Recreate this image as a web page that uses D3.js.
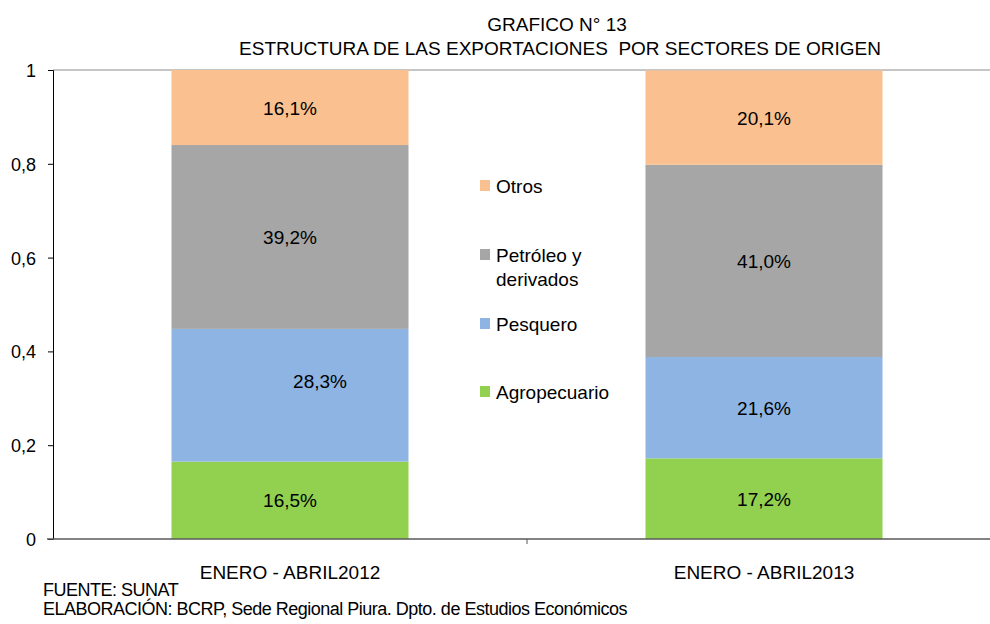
<!DOCTYPE html>
<html>
<head>
<meta charset="utf-8">
<script src="https://cdn.jsdelivr.net/npm/d3@7"></script>
<style>
  body { margin: 0; background: #fff; }
  text { font-family: "Liberation Sans", Arial, sans-serif; fill: #000; }
</style>
</head>
<body>
<script>
const periods = ["ENERO - ABRIL2012", "ENERO - ABRIL2013"];
const sectors = ["Agropecuario", "Pesquero", "Petróleo y derivados", "Otros"];
const agropecuario = [0.165, 0.172];
const pesquero = [0.283, 0.216];
const petroleo = [0.392, 0.41];
const otros = [0.161, 0.201];
const yTicks = [0, 0.2, 0.4, 0.6, 0.8, 1];
const colors = ["#92D050", "#8EB4E3", "#A6A6A6", "#FAC090"];

const width = 990;
const height = 624;
const margin = { left: 53, top: 70, right: -11, bottom: 85 };

const svg = d3
  .select("body")
  .append("svg")
  .attr("width", width)
  .attr("height", height);

const rows = periods.map((p, i) => ({
  period: p,
  "Agropecuario": agropecuario[i],
  "Pesquero": pesquero[i],
  "Petróleo y derivados": petroleo[i],
  "Otros": otros[i],
}));
const series = d3.stack().keys(sectors)(rows);

const x = d3
  .scaleBand()
  .domain(periods)
  .range([margin.left, width - margin.right])
  .paddingInner(0.5)
  .paddingOuter(0.25);
const y = d3
  .scaleLinear()
  .domain([0, 1])
  .range([height - margin.bottom, margin.top]);

// top gridline
svg
  .append("line")
  .attr("x1", margin.left)
  .attr("x2", width)
  .attr("y1", y(1))
  .attr("y2", y(1))
  .attr("stroke", "#8c8c8c")
  .attr("stroke-width", 1);

// bars
const layers = svg
  .selectAll("g.layer")
  .data(series)
  .enter()
  .append("g")
  .attr("class", "layer")
  .attr("fill", (_, i) => colors[i]);

layers
  .selectAll("rect")
  .data((d) => d)
  .enter()
  .append("rect")
  .attr("x", (d) => x(d.data.period))
  .attr("width", x.bandwidth())
  .attr("y", (d) => y(Math.min(d[1], 1)))
  .attr("height", (d) => y(d[0]) - y(Math.min(d[1], 1)));

// value labels (one label was moved by hand in the original)
const nudge = { "Pesquero|0": [30, -14] };
layers.each(function (s) {
  d3.select(this)
    .selectAll("text")
    .data(s)
    .enter()
    .append("text")
    .attr("text-anchor", "middle")
    .attr("font-size", 19)
    .attr("x", (d, i) => x(d.data.period) + x.bandwidth() / 2 + ((nudge[s.key + "|" + i] || [0, 0])[0]))
    .attr("y", (d, i) => (y(d[0]) + y(Math.min(d[1], 1))) / 2 + 7 + ((nudge[s.key + "|" + i] || [0, 0])[1]))
    .text((d) => (d.data[s.key] * 100).toFixed(1).replace(".", ",") + "%");
});

// y axis
const yAxis = svg
  .append("g")
  .attr("transform", `translate(${margin.left},0)`)
  .call(
    d3
      .axisLeft(y)
      .tickValues(yTicks)
      .tickSize(5)
      .tickFormat((d) => String(d).replace(".", ","))
  );
yAxis.select(".domain").attr("stroke", "#000");
yAxis.selectAll(".tick line").attr("stroke", "#000");
yAxis
  .selectAll(".tick text")
  .attr("x", -17)
  .attr("dy", "0.36em")
  .attr("font-size", 18)
  .attr("font-family", "Liberation Sans, Arial, sans-serif")
  .attr("fill", "#000");

// x axis
const xAxis = svg
  .append("g")
  .attr("transform", `translate(0,${y(0)})`)
  .call(d3.axisBottom(x).tickSize(0).tickPadding(27));
xAxis.select(".domain").remove();
xAxis
  .append("line")
  .attr("x1", margin.left - 6)
  .attr("x2", width)
  .attr("stroke", "#595959")
  .attr("stroke-width", 1.5);
xAxis
  .append("line")
  .attr("x1", (x(periods[0]) + x.bandwidth() + x(periods[1])) / 2)
  .attr("x2", (x(periods[0]) + x.bandwidth() + x(periods[1])) / 2)
  .attr("y1", 0)
  .attr("y2", 5)
  .attr("stroke", "#595959");
xAxis
  .selectAll(".tick text")
  .attr("font-size", 19)
  .attr("font-family", "Liberation Sans, Arial, sans-serif")
  .attr("fill", "#000");

// legend
const legendY = { "Otros": 180, "Petróleo y derivados": 249, "Pesquero": 318, "Agropecuario": 386 };
const legend = svg
  .selectAll("g.legend")
  .data(sectors)
  .enter()
  .append("g")
  .attr("class", "legend")
  .attr("transform", (d) => `translate(480,${legendY[d]})`);
legend
  .append("rect")
  .attr("width", 10)
  .attr("height", 11)
  .attr("fill", (_, i) => colors[i]);
legend
  .append("text")
  .attr("x", 16)
  .attr("y", 13)
  .attr("font-size", 19)
  .each(function (d) {
    const parts = d === "Petróleo y derivados" ? ["Petróleo y", "derivados"] : [d];
    d3.select(this)
      .selectAll("tspan")
      .data(parts)
      .enter()
      .append("tspan")
      .attr("x", 16)
      .attr("dy", (_, i) => (i === 0 ? 0 : 24))
      .text((t) => t);
  });

// title
svg
  .append("text")
  .attr("x", 557)
  .attr("y", 31)
  .attr("text-anchor", "middle")
  .attr("font-size", 19)
  .text("GRAFICO N° 13");
svg
  .append("text")
  .attr("x", 560)
  .attr("y", 55)
  .attr("text-anchor", "middle")
  .attr("font-size", 19)
  .style("white-space", "pre")
  .text("ESTRUCTURA DE LAS EXPORTACIONES  POR SECTORES DE ORIGEN");

// notes
svg
  .append("text")
  .attr("x", 43)
  .attr("y", 596)
  .attr("font-size", 18)
  .attr("letter-spacing", -0.5)
  .text("FUENTE: SUNAT");
svg
  .append("text")
  .attr("x", 43)
  .attr("y", 615)
  .attr("font-size", 18)
  .attr("letter-spacing", -0.5)
  .text("ELABORACIÓN: BCRP, Sede Regional Piura. Dpto. de Estudios Económicos");
</script>
</body>
</html>
